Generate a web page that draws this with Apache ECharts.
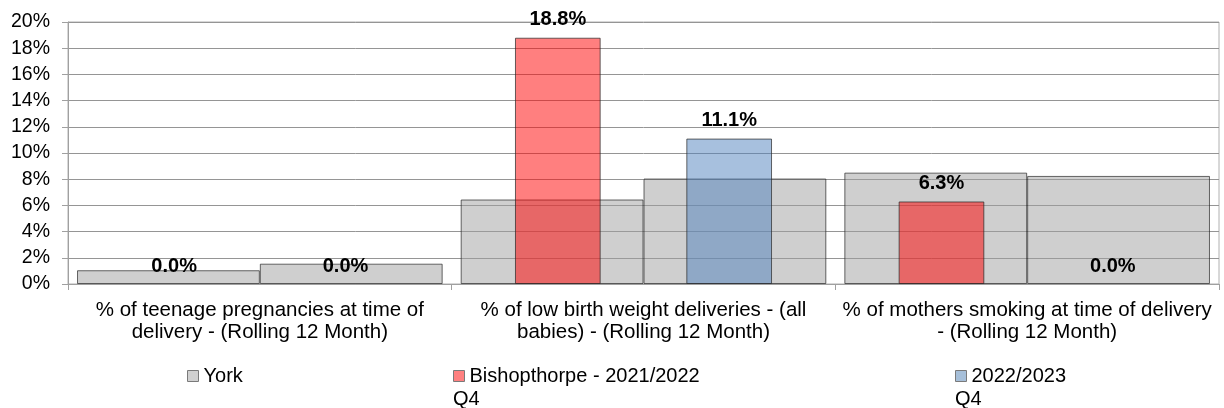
<!DOCTYPE html>
<html>
<head>
<meta charset="utf-8">
<script src="https://cdn.jsdelivr.net/npm/echarts@6/dist/echarts.min.js"></script>
<style>
  html, body { margin: 0; padding: 0; background: #ffffff; }
  #chart { width: 1224px; height: 408px; }
</style>
</head>
<body>
<div id="chart"></div>
<script>
// Indicator categories (line breaks as shown under the axis)
const categories = [
  '% of teenage pregnancies at time of\ndelivery - (Rolling 12 Month)',
  '% of low birth weight deliveries - (all\nbabies) - (Rolling 12 Month)',
  '% of mothers smoking at time of delivery\n- (Rolling 12 Month)'
];

// York comparison values (%), one bar per period
const york2122 = [1.05, 6.45, 8.5];
const york2223 = [1.55, 8.05, 8.25];

// Bishopthorpe values (%)
const bishop2122 = [0.0, 18.8, 6.3];
const bishop2223 = [0.0, 11.1, 0.0];

// Y axis range and step (%)
const yMin = 0, yMax = 20, yStep = 2;

const seriesNames = ['York', 'Bishopthorpe - 2021/2022 Q4', '2022/2023 Q4'];

const FONT = "'Liberation Sans', Arial, sans-serif";

const chart = echarts.init(document.getElementById('chart'), null, { renderer: 'canvas' });

const valueLabel = {
  show: true,
  position: 'top',
  distance: 8,
  formatter: p => p.value.toFixed(1) + '%',
  color: '#000',
  fontFamily: FONT,
  fontWeight: 'bold',
  fontSize: 20
};

// zero-height bars get no outline, only their label
const withOutline = values => values.map(v => (v === 0 ? { value: v, itemStyle: { borderWidth: 0 } } : v));

const legendText = { color: '#000', fontFamily: FONT, fontSize: 20 };

function legendFor(name, left, fill) {
  return {
    left: left, top: 366, padding: 0,
    itemWidth: 11, itemHeight: 11, icon: 'rect',
    selectedMode: false,
    textStyle: legendText,
    formatter: n => n.replace(/ Q4$/, ''),
    data: [{ name: name, itemStyle: { color: fill, borderColor: '#7a7a7a', borderWidth: 1, opacity: 1 } }]
  };
}

const barBorder = 'rgba(40,40,40,0.7)';

chart.setOption({
  animation: false,
  textStyle: { fontFamily: FONT },
  grid: {
    left: 68, right: 5, top: 22, bottom: 124,
    show: true, borderColor: '#b0b0b0', borderWidth: 1, backgroundColor: 'transparent'
  },
  legend: [
    legendFor(seriesNames[0], 187, '#d0d0d0'),
    legendFor(seriesNames[1], 453, '#ff8080'),
    legendFor(seriesNames[2], 955, '#a6bfd9')
  ],
  graphic: [
    { type: 'text', left: 453, top: 389, style: { text: 'Q4', fill: '#000', font: '20px ' + FONT } },
    { type: 'text', left: 955, top: 389, style: { text: 'Q4', fill: '#000', font: '20px ' + FONT } }
  ],
  xAxis: [
    {
      type: 'category',
      data: categories,
      position: 'bottom',
      axisLine: { show: true, lineStyle: { color: '#a0a0a0', width: 1 } },
      axisTick: { show: true, length: 6, alignWithLabel: false, lineStyle: { color: '#a0a0a0' } },
      axisLabel: {
        interval: 0, margin: 15, color: '#000',
        fontFamily: FONT, fontSize: 20.5, lineHeight: 22, align: 'center'
      },
      splitLine: { show: false }
    },
    {
      type: 'category',
      data: categories,
      position: 'bottom',
      show: false
    }
  ],
  yAxis: {
    type: 'value',
    min: yMin, max: yMax, interval: yStep,
    axisLine: { show: true, lineStyle: { color: '#a0a0a0', width: 1 } },
    axisTick: { show: true, length: 6, inside: false, lineStyle: { color: '#a0a0a0' } },
    axisLabel: {
      formatter: '{value}%', color: '#000', margin: 18,
      fontFamily: FONT, fontSize: 19.5
    },
    splitLine: { show: true, lineStyle: { color: '#959595', width: 1 } }
  },
  series: [
    {
      name: seriesNames[0], type: 'bar', xAxisIndex: 0,
      data: york2122,
      itemStyle: { color: 'rgba(160,160,160,0.5)', borderColor: barBorder, borderWidth: 1 },
      emphasis: { disabled: true }
    },
    {
      name: seriesNames[0], type: 'bar', xAxisIndex: 0,
      data: york2223,
      barGap: '0%', barCategoryGap: '4.7%',
      itemStyle: { color: 'rgba(160,160,160,0.5)', borderColor: barBorder, borderWidth: 1 },
      emphasis: { disabled: true }
    },
    {
      name: seriesNames[1], type: 'bar', xAxisIndex: 1,
      data: withOutline(bishop2122),
      itemStyle: { color: 'rgba(255,0,0,0.5)', borderColor: barBorder, borderWidth: 1 },
      label: valueLabel,
      emphasis: { disabled: true },
      z: 3
    },
    {
      name: seriesNames[2], type: 'bar', xAxisIndex: 1,
      data: withOutline(bishop2223),
      barGap: '100%', barCategoryGap: '33%',
      itemStyle: { color: 'rgba(79,129,189,0.5)', borderColor: barBorder, borderWidth: 1 },
      label: valueLabel,
      emphasis: { disabled: true },
      z: 3
    }
  ]
});
</script>
</body>
</html>
